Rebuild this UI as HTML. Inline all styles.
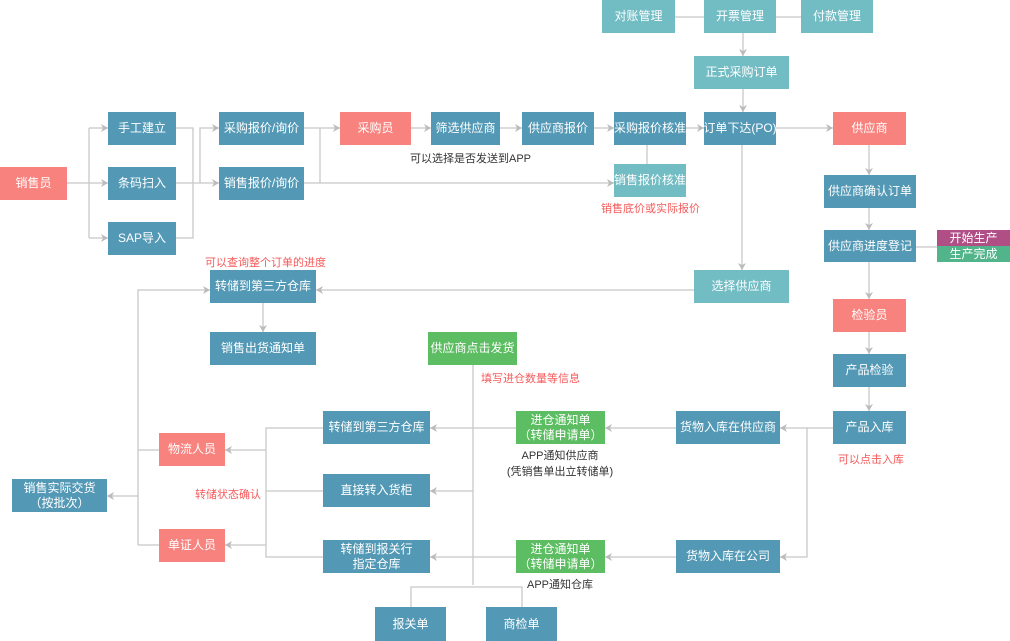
<!DOCTYPE html>
<html><head><meta charset="utf-8"><style>
body{margin:0;width:1010px;height:641px;position:relative;background:#fff;overflow:hidden;font-family:"Liberation Sans","Noto Sans CJK SC",sans-serif}
.b{position:absolute;color:#fff;font-size:12px;display:flex;align-items:center;justify-content:center;text-align:center;line-height:15px;background:#5399b6;box-sizing:border-box}
.s{background:#f8827e}.t{background:#72bcc4}.g{background:#5cbd62}
.r{position:absolute;color:#f55a5a;font-size:11px;white-space:nowrap}
.k{position:absolute;color:#333;font-size:11px;white-space:nowrap;text-align:center}
svg{position:absolute;left:0;top:0}
</style></head><body>
<svg width="1010" height="641">
<defs><marker id="a" markerWidth="8" markerHeight="8" refX="7" refY="4" orient="auto" markerUnits="userSpaceOnUse"><path d="M0,0 L7,4 L0,8 L2,4z" fill="#bbb"/></marker></defs>
<g stroke="#c8c8c8" stroke-width="1.3" fill="none">
<line x1="67" y1="183" x2="108" y2="183" marker-end="url(#a)"/>
<line x1="89" y1="128" x2="89" y2="238"/>
<line x1="89" y1="128" x2="108" y2="128" marker-end="url(#a)"/>
<line x1="89" y1="238" x2="108" y2="238" marker-end="url(#a)"/>
<polyline points="176,128 193,128 193,238 176,238"/>
<line x1="176" y1="183" x2="219" y2="183" marker-end="url(#a)"/>
<polyline points="200,183 200,128 219,128" marker-end="url(#a)"/>
<polyline points="304,128 340,128" marker-end="url(#a)"/>
<line x1="320" y1="128" x2="320" y2="183"/>
<line x1="304" y1="183" x2="614" y2="183" marker-end="url(#a)"/>
<line x1="411" y1="128" x2="431" y2="128" marker-end="url(#a)"/>
<line x1="500" y1="128" x2="522" y2="128" marker-end="url(#a)"/>
<line x1="594" y1="128" x2="614" y2="128" marker-end="url(#a)"/>
<line x1="686" y1="128" x2="704" y2="128" marker-end="url(#a)"/>
<line x1="647" y1="145" x2="647" y2="164"/>
<line x1="776" y1="128" x2="833" y2="128" marker-end="url(#a)"/>
<line x1="675" y1="17" x2="704" y2="17"/>
<line x1="776" y1="17" x2="801" y2="17"/>
<line x1="743" y1="33" x2="743" y2="56" marker-end="url(#a)"/>
<line x1="743" y1="89" x2="743" y2="112" marker-end="url(#a)"/>
<line x1="742" y1="145" x2="742" y2="270" marker-end="url(#a)"/>
<line x1="869" y1="145" x2="869" y2="175" marker-end="url(#a)"/>
<line x1="869" y1="208" x2="869" y2="230" marker-end="url(#a)"/>
<line x1="869" y1="262" x2="869" y2="299" marker-end="url(#a)"/>
<line x1="869" y1="332" x2="869" y2="354" marker-end="url(#a)"/>
<line x1="869" y1="387" x2="869" y2="411" marker-end="url(#a)"/>
<line x1="916" y1="247" x2="937" y2="247"/>
<line x1="694" y1="290" x2="316" y2="290" marker-end="url(#a)"/>
<line x1="263" y1="303" x2="263" y2="332" marker-end="url(#a)"/>
<polyline points="138,545 138,290 210,290" marker-end="url(#a)"/>
<line x1="138" y1="450" x2="159" y2="450"/>
<line x1="138" y1="545" x2="159" y2="545"/>
<line x1="138" y1="496" x2="107" y2="496" marker-end="url(#a)"/>
<line x1="833" y1="428" x2="780" y2="428" marker-end="url(#a)"/>
<polyline points="807,428 807,557 780,557" marker-end="url(#a)"/>
<line x1="676" y1="428" x2="605" y2="428" marker-end="url(#a)"/>
<line x1="676" y1="557" x2="605" y2="557" marker-end="url(#a)"/>
<line x1="516" y1="428" x2="430" y2="428" marker-end="url(#a)"/>
<line x1="516" y1="557" x2="430" y2="557" marker-end="url(#a)"/>
<line x1="473" y1="365" x2="473" y2="585"/>
<line x1="473" y1="491" x2="430" y2="491" marker-end="url(#a)"/>
<polyline points="411,607 411,587 522,587 522,607"/>
<polyline points="323,428 266,428 266,557 323,557"/>
<line x1="323" y1="491" x2="266" y2="491"/>
<line x1="266" y1="450" x2="225" y2="450" marker-end="url(#a)"/>
<line x1="266" y1="545" x2="225" y2="545" marker-end="url(#a)"/>
</g></svg>
<div class="b s" style="left:0;top:167px;width:67px;height:33px">销售员</div>
<div class="b" style="left:108px;top:112px;width:68px;height:33px">手工建立</div>
<div class="b" style="left:108px;top:167px;width:68px;height:33px">条码扫入</div>
<div class="b" style="left:108px;top:222px;width:68px;height:33px">SAP导入</div>
<div class="b" style="left:219px;top:112px;width:85px;height:33px">采购报价/询价</div>
<div class="b" style="left:219px;top:167px;width:85px;height:33px">销售报价/询价</div>
<div class="b s" style="left:340px;top:112px;width:71px;height:33px">采购员</div>
<div class="b" style="left:431px;top:112px;width:69px;height:33px">筛选供应商</div>
<div class="k" style="left:410px;top:150px">可以选择是否发送到APP</div>
<div class="b" style="left:522px;top:112px;width:72px;height:33px">供应商报价</div>
<div class="b" style="left:614px;top:112px;width:72px;height:33px;white-space:nowrap">采购报价核准</div>
<div class="b t" style="left:614px;top:164px;width:72px;height:33px;white-space:nowrap">销售报价核准</div>
<div class="r" style="left:601px;top:200px">销售底价或实际报价</div>
<div class="b" style="left:704px;top:112px;width:72px;height:33px;white-space:nowrap">订单下达(PO)</div>
<div class="b s" style="left:833px;top:112px;width:73px;height:33px">供应商</div>
<div class="b t" style="left:602px;top:0;width:73px;height:33px">对账管理</div>
<div class="b t" style="left:704px;top:0;width:72px;height:33px">开票管理</div>
<div class="b t" style="left:801px;top:0;width:72px;height:33px">付款管理</div>
<div class="b t" style="left:694px;top:56px;width:95px;height:33px">正式采购订单</div>
<div class="b" style="left:824px;top:175px;width:92px;height:33px">供应商确认订单</div>
<div class="b" style="left:824px;top:230px;width:92px;height:32px">供应商进度登记</div>
<div class="b" style="left:937px;top:230px;width:73px;height:16px;background:#b04f86">开始生产</div>
<div class="b" style="left:937px;top:246px;width:73px;height:16px;background:#52b48a">生产完成</div>
<div class="b t" style="left:694px;top:270px;width:95px;height:33px">选择供应商</div>
<div class="b s" style="left:833px;top:299px;width:73px;height:33px">检验员</div>
<div class="b" style="left:833px;top:354px;width:73px;height:33px">产品检验</div>
<div class="b" style="left:833px;top:411px;width:73px;height:33px">产品入库</div>
<div class="r" style="left:838px;top:451px">可以点击入库</div>
<div class="r" style="left:205px;top:254px">可以查询整个订单的进度</div>
<div class="b" style="left:210px;top:270px;width:106px;height:33px">转储到第三方仓库</div>
<div class="b" style="left:210px;top:332px;width:106px;height:33px">销售出货通知单</div>
<div class="b g" style="left:428px;top:332px;width:89px;height:33px">供应商点击发货</div>
<div class="r" style="left:481px;top:370px">填写进仓数量等信息</div>
<div class="b" style="left:676px;top:411px;width:104px;height:33px">货物入库在供应商</div>
<div class="b" style="left:676px;top:540px;width:104px;height:33px">货物入库在公司</div>
<div class="b g" style="left:516px;top:411px;width:89px;height:33px">进仓通知单<br>（转储申请单）</div>
<div class="b g" style="left:516px;top:540px;width:89px;height:33px">进仓通知单<br>（转储申请单）</div>
<div class="k" style="left:500px;top:447px;width:120px">APP通知供应商<br>(凭销售单出立转储单)</div>
<div class="k" style="left:500px;top:576px;width:120px">APP通知仓库</div>
<div class="b" style="left:323px;top:411px;width:107px;height:33px">转储到第三方仓库</div>
<div class="b" style="left:323px;top:474px;width:107px;height:33px">直接转入货柜</div>
<div class="b" style="left:323px;top:540px;width:107px;height:33px">转储到报关行<br>指定仓库</div>
<div class="b s" style="left:159px;top:433px;width:66px;height:33px">物流人员</div>
<div class="b s" style="left:159px;top:529px;width:66px;height:33px">单证人员</div>
<div class="r" style="left:195px;top:486px">转储状态确认</div>
<div class="b" style="left:12px;top:479px;width:95px;height:33px">销售实际交货<br>（按批次）</div>
<div class="b" style="left:375px;top:607px;width:71px;height:34px">报关单</div>
<div class="b" style="left:486px;top:607px;width:71px;height:34px">商检单</div>
</body></html>
